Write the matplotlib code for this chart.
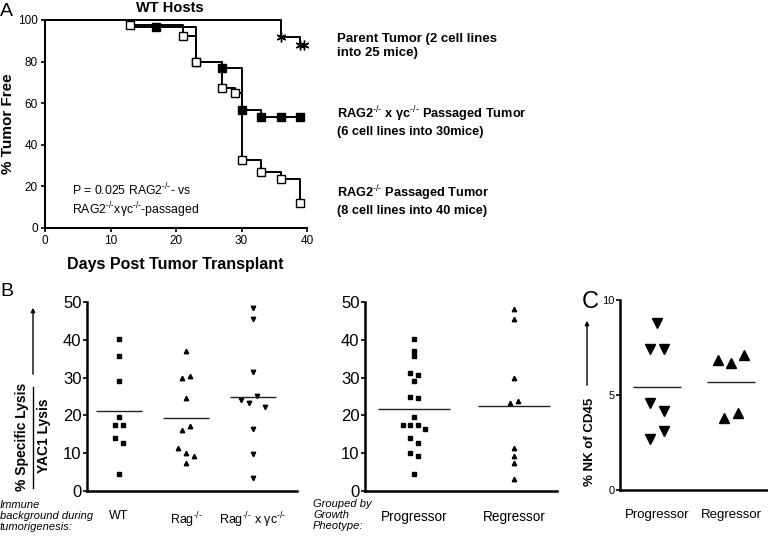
import numpy as np
import matplotlib
matplotlib.use('Agg')
import matplotlib.pyplot as plt
from matplotlib.lines import Line2D
from matplotlib.patches import FancyArrowPatch

plt.rcParams['font.family'] = ['Liberation Sans', 'DejaVu Sans']
plt.rcParams['mathtext.fontset'] = 'custom'
plt.rcParams['mathtext.rm'] = 'Liberation Sans'
plt.rcParams['mathtext.it'] = 'Liberation Sans:italic'
plt.rcParams['mathtext.bf'] = 'Liberation Sans:bold'

KO = r'$^{\mathrm{‐/‐}}$'   # superscript -/- with plain hyphens

# ---- panel A: % tumor free (Kaplan-Meier steps)
parent_days = [0, 36, 38.9, 39.6]
parent_pct = [100, 92, 88, 88]
dko_days = [0, 13, 17, 23, 27, 30, 33, 36, 39]
dko_pct = [100, 96.7, 96.7, 80, 76.7, 56.7, 53.3, 53.3, 53.3]
rag_days = [0, 13, 21, 23, 27, 29, 30, 33, 36, 39]
rag_pct = [100, 97.5, 92.5, 80, 67.5, 65, 32.5, 27, 23.5, 12]

# ---- panel B: % specific lysis / YAC1 lysis
immune_groups = ['WT', 'Rag' + KO, 'Rag' + KO + ' x γc' + KO]
lysis_wt = [40.2, 35.7, 29.1, 19.5, 17.4, 17.4, 13.9, 12.7, 4.3]
lysis_rag = [37.2, 30.0, 30.4, 24.5, 16.1, 17.3, 11.2, 9.9, 9.3, 7.3]
lysis_dko = [48.4, 45.7, 31.4, 24.1, 23.4, 25.1, 22.1, 16.5, 9.7, 3.3]

growth_groups = ['Progressor', 'Regressor']
lysis_prog = [40.2, 37.2, 35.7, 31.3, 30.7, 29.2, 24.9, 24.6, 19.5,
              17.4, 17.4, 17.4, 16.3, 13.9, 12.7, 9.9, 9.2, 4.3]
lysis_regr = [48.2, 45.5, 30.0, 23.2, 23.9, 11.2, 9.3, 7.3, 3.0]

# ---- panel C: % NK of CD45
nk_prog = [8.77, 7.42, 7.42, 4.56, 4.16, 2.68, 3.1]
nk_regr = [6.84, 6.7, 7.1, 3.77, 4.07]

W, H = 768, 536


def rect(l, t, r, b):
    return [l / W, 1 - b / H, (r - l) / W, (b - t) / H]


def fxy(x, y):
    return (x / W, 1 - y / H)


def spread(vals, thr, step):
    # side-by-side offsets for points with close values
    vals = np.asarray(vals, float)
    order = np.argsort(-vals, kind='stable')
    off = np.zeros(len(vals))
    clusters, cur = [], [order[0]]
    for i in order[1:]:
        if vals[cur[-1]] - vals[i] < thr:
            cur.append(i)
        else:
            clusters.append(cur)
            cur = [i]
    clusters.append(cur)
    for c in clusters:
        c = sorted(c)
        n = len(c)
        for k, i in enumerate(c):
            off[i] = (k - (n - 1) / 2) * step
    return off


fig = plt.figure(figsize=(7.68, 5.36), dpi=100)

# ================= A
axA = fig.add_axes(rect(45, 20, 307, 228))
axA.step(parent_days, parent_pct, where='post', color='k', lw=1.4, clip_on=False)
axA.plot(parent_days[1:], parent_pct[1:], ls='none', marker=(6, 2, 0), ms=7,
         mec='k', mew=1, clip_on=False)
axA.step(dko_days, dko_pct, where='post', color='k', lw=1.4, clip_on=False)
axA.plot(dko_days[2:], dko_pct[2:], 's', ms=5.5, color='k', clip_on=False, zorder=3)
axA.step(rag_days, rag_pct, where='post', color='k', lw=1.4, clip_on=False)
axA.plot(rag_days[1:], rag_pct[1:], 's', ms=5.5, mfc='white', mec='k', mew=1,
         clip_on=False, zorder=4)
axA.set_xlim(0, 40)
axA.set_ylim(0, 100)
axA.set_xticks([0, 10, 20, 30, 40])
axA.set_yticks([0, 20, 40, 60, 80, 100])
for s in ['top', 'right']:
    axA.spines[s].set_visible(False)
for s in ['left', 'bottom']:
    axA.spines[s].set_linewidth(1.5)
axA.tick_params(direction='out', length=3, width=1.2, labelsize=8.5, pad=2)

fig.text(*fxy(175, 264), 'Days Post Tumor Transplant', fontsize=11.5,
         fontweight='bold', ha='center', va='center')
fig.text(*fxy(8, 124), '% Tumor Free', fontsize=11, fontweight='bold',
         rotation=90, ha='center', va='center')
fig.text(*fxy(170, 8), 'WT Hosts', fontsize=10.5, fontweight='bold',
         ha='center', va='center')
fig.text(*fxy(0, 11), 'A', fontsize=14, ha='left', va='center')
fig.text(*fxy(72, 201), 'P = 0.025 RAG2' + KO + '- vs\nRAG2' + KO + 'xγc' + KO + '-passaged',
         fontsize=8.8, ha='left', va='center', linespacing=1.15)

fig.text(*fxy(337, 46), 'Parent Tumor (2 cell lines\ninto 25 mice)', fontsize=9.5,
         fontweight='bold', ha='left', va='center', linespacing=1.2)
fig.text(*fxy(337, 121), 'RAG2' + KO + ' x γc' + KO + ' Passaged Tumor\n(6 cell lines into 30mice)',
         fontsize=9.2, fontweight='bold', ha='left', va='center', linespacing=1.2)
fig.text(*fxy(337, 200), 'RAG2' + KO + ' Passaged Tumor\n(8 cell lines into 40 mice)',
         fontsize=9.2, fontweight='bold', ha='left', va='center', linespacing=1.2)


def dot_panel(ax, groups, markers, ms, thr, step, half, ylim, yticks):
    for i, (vals, m) in enumerate(zip(groups, markers)):
        off = spread(vals, thr, step)
        ax.plot(i + off, vals, ls='none', marker=m, ms=ms, color='k', clip_on=False)
        ax.hlines(np.mean(vals), i - half, i + half, color='#222222', lw=1)
    ax.set_ylim(*ylim)
    ax.set_yticks(yticks)
    for s in ['top', 'right']:
        ax.spines[s].set_visible(False)
    for s in ['left', 'bottom']:
        ax.spines[s].set_linewidth(1.8)


# ================= B (immune background)
axB1 = fig.add_axes(rect(87, 302.3, 297, 490.7))
dot_panel(axB1, [lysis_wt, lysis_rag, lysis_dko], ['s', '^', 'v'], 3.2,
          1.3, 0.12, 0.34, (0, 50), [0, 10, 20, 30, 40, 50])
axB1.set_xlim(-0.48, 2.66)
axB1.set_xticks([0, 1, 2])
axB1.set_xticklabels(immune_groups)
axB1.tick_params(axis='x', length=0, pad=14, labelsize=9)
axB1.tick_params(axis='y', direction='out', length=3, width=1.2, labelsize=12, pad=1)

# ================= B (growth phenotype)
axB2 = fig.add_axes(rect(365, 302.3, 557, 490.7))
dot_panel(axB2, [lysis_prog, lysis_regr], ['s', '^'], 3.2,
          1.3, 0.075, 0.36, (0, 50), [0, 10, 20, 30, 40, 50])
axB2.set_xlim(-0.49, 1.43)
axB2.set_xticks([0, 1])
axB2.set_xticklabels(growth_groups)
axB2.tick_params(axis='x', length=0, pad=14, labelsize=9.8)
axB2.tick_params(axis='y', direction='out', length=3, width=1.2, labelsize=12, pad=1)

fig.text(*fxy(0, 292), 'B', fontsize=14, ha='left', va='center')
fig.text(*fxy(22, 437), '% Specific Lysis', fontsize=10, fontweight='bold',
         rotation=90, ha='center', va='center')
fig.text(*fxy(44, 436), 'YAC1 Lysis', fontsize=10, fontweight='bold',
         rotation=90, ha='center', va='center')
fig.add_artist(Line2D([33 / W, 33 / W], [1 - 387 / H, 1 - 488 / H],
                      transform=fig.transFigure, color='k', lw=1))
fig.add_artist(FancyArrowPatch(fxy(33, 377), fxy(33, 305), transform=fig.transFigure,
                               arrowstyle='-|>', mutation_scale=6, color='k', lw=1))
fig.text(*fxy(0, 500), 'Immune\nbackground during\ntumorigenesis:', fontsize=8,
         style='italic', ha='left', va='top', linespacing=1.1)
fig.text(*fxy(313, 499), 'Grouped by\nGrowth\nPheotype:', fontsize=8,
         style='italic', ha='left', va='top', linespacing=1.1)

# ================= C
axC = fig.add_axes(rect(620, 300, 768, 490))
dot_panel(axC, [nk_prog, nk_regr], ['v', '^'], 7,
          0.5, 0.18, 0.33, (0, 10), [0, 5, 10])
axC.set_xlim(-0.5, 1.5)
axC.set_xticks([0, 1])
axC.set_xticklabels(growth_groups)
axC.tick_params(axis='x', length=0, pad=14, labelsize=9.5)
axC.tick_params(axis='y', direction='out', length=3, width=1.2, labelsize=8, pad=1)

fig.text(*fxy(582, 302), 'C', fontsize=17, ha='left', va='center')
fig.text(*fxy(590, 442), '% NK of CD45', fontsize=9.5, fontweight='bold',
         rotation=90, ha='center', va='center')
fig.add_artist(FancyArrowPatch(fxy(587, 388), fxy(587, 318), transform=fig.transFigure,
                               arrowstyle='-|>', mutation_scale=6, color='k', lw=1))

fig.savefig('out.png', dpi=100)
